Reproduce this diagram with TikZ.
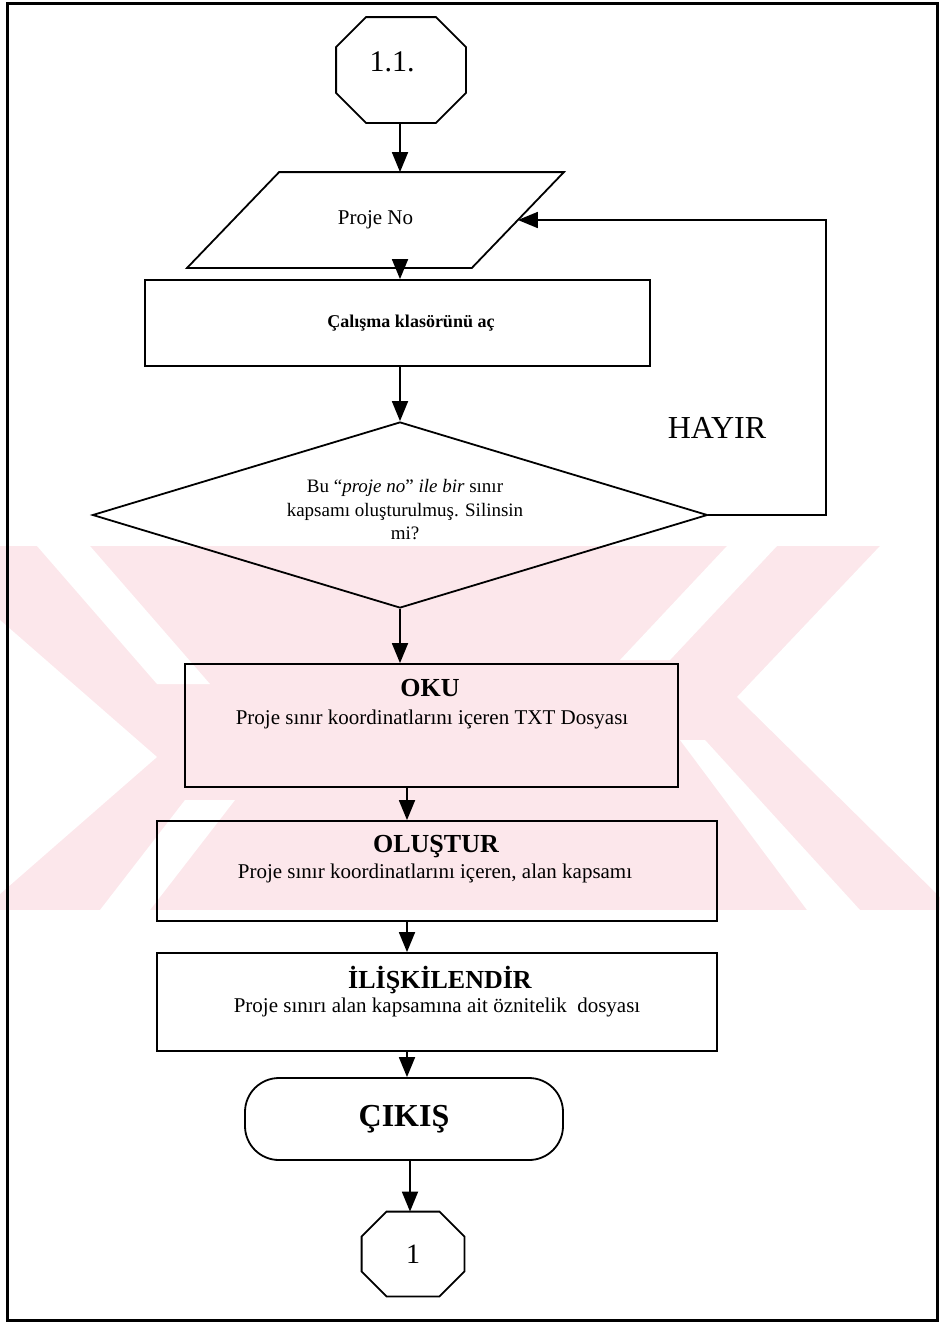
\documentclass[tikz,border=0pt]{standalone}
\usepackage{fontspec}
\setmainfont{Liberation Serif}
\usetikzlibrary{calc,shapes.geometric,arrows.meta}
\definecolor{wmpink}{RGB}{252,231,235}

\begin{document}
\begin{tikzpicture}[x=0.5pt,y=-0.5pt,line width=0.9pt,
    octa/.style={rectangle,inner sep=0pt},
    inbox/.style={rectangle,inner sep=0pt},
    procbox/.style={draw,rectangle,inner sep=0pt},
    askbox/.style={draw,diamond,aspect=3.3,inner sep=0pt},
    endbox/.style={draw,rectangle,rounded corners=17pt,inner sep=0pt},
    flowarrow/.style={-{Triangle[width=8pt,length=10pt]}},
    titleline/.style={inner sep=0pt,font=\fontsize{13}{15}\selectfont\bfseries},
    subline/.style={inner sep=0pt,font=\fontsize{10.5}{12}\selectfont}]
    \useasboundingbox (0,0) rectangle (942,1333);
    % watermark
    \fill[wmpink] (0,546) rectangle (940,910);
    \fill[white] (0,620) -- (157,757) -- (0,894) -- cycle;
    \fill[white] (880,546) -- (737,697) -- (940,897) -- (942,897) -- (942,546) -- cycle;
    \fill[white] (37,546) -- (90,546) -- (210,684) -- (157,684) -- cycle;
    \fill[white] (727,546) -- (777,546) -- (670,660) -- (620,660) -- cycle;
    \fill[white] (807,910) -- (860,910) -- (705,740) -- (680,740) -- cycle;
    \fill[white] (100,910) -- (150,910) -- (235,800) -- (185,800) -- cycle;
    % frame
    \draw[line width=1.5pt] (7,3) rectangle (937,1320);

    \node[octa,minimum width=64pt,minimum height=52pt] (start) at (401,70) {};
    \node[font=\fontsize{15}{17}\selectfont] (starttext) at (392,62) {1.1.};
    \node[inbox,minimum width=141.5pt,minimum height=47pt,font=\fontsize{10.5}{12}\selectfont] (projno) at (375.5,220) {Proje No};
    \node[procbox,minimum width=252.5pt,minimum height=43pt] (folder) at (397.5,323) {};
    \node[font=\fontsize{9}{11}\selectfont\bfseries] (foldertext) at (411,323) {Çalışma klasörünü aç};
    \node[askbox,minimum width=307.5pt,minimum height=93pt] (delete) at (400,515) {};
    \node[align=center,font=\fontsize{9.5}{11.75}\selectfont] (deletetext) at (405,510)
        {Bu “\textit{proje no}” \textit{ile bir} sınır\\ kapsamı oluşturulmuş. Silinsin\\ mi?};
    \node[font=\fontsize{16}{18}\selectfont] (no) at (717,428) {HAYIR};

    \node[procbox,minimum width=246.5pt,minimum height=61.5pt] (oku) at (431.5,725.5) {};
    \node[titleline] (okuhead) at (430,688) {OKU};
    \node[subline] (okusub) at (432,719) {Proje sınır koordinatlarını içeren TXT Dosyası};

    \node[procbox,minimum width=280pt,minimum height=50pt] (olus) at (437,871) {};
    \node[titleline] (olushead) at (436,847) {OLUŞTUR};
    \node[subline] (olussub) at (435,873) {Proje sınır koordinatlarını içeren, alan kapsamı};

    \node[procbox,minimum width=280pt,minimum height=49pt] (ilis) at (437,1002) {};
    \node[titleline] (ilishead) at (440,980) {İLİŞKİLENDİR};
    \node[subline] (ilissub) at (437,1007) {Proje sınırı alan kapsamına ait öznitelik\ \ dosyası};

    \node[endbox,minimum width=159pt,minimum height=41pt,font=\fontsize{16}{18}\selectfont\bfseries] (exit) at (404,1119) {ÇIKIŞ};
    \node[octa,minimum width=50.5pt,minimum height=41.5pt,font=\fontsize{14}{16}\selectfont] (stop) at (413,1254) {1};

    % octagon outlines
    \foreach \n/\c in {start/15pt,stop/12.5pt}
        \draw ($(\n.north west)+(\c,0pt)$) -- ($(\n.north east)+(-\c,0pt)$) -- ($(\n.north east)+(0pt,-\c)$)
            -- ($(\n.south east)+(0pt,\c)$) -- ($(\n.south east)+(-\c,0pt)$) -- ($(\n.south west)+(\c,0pt)$)
            -- ($(\n.south west)+(0pt,\c)$) -- ($(\n.north west)+(0pt,-\c)$) -- cycle;
    % parallelogram outline
    \draw ($(projno.north west)+(23pt,0pt)$) -- ($(projno.north east)+(23pt,0pt)$)
        -- ($(projno.south east)+(-23pt,0pt)$) -- ($(projno.south west)+(-23pt,0pt)$) -- cycle;

    \coordinate (upper) at (400,0);
    \coordinate (lower) at (407,0);
    \coordinate (bottom) at (410,0);
    \coordinate (back) at (826,0);
    \draw[flowarrow] (start.south -| upper) -- (projno.north -| upper);
    \draw[flowarrow] (projno.south -| upper) -- (folder.north -| upper);
    \draw[flowarrow] (folder.south -| upper) -- (delete.north -| upper);
    \draw[flowarrow] (delete.south -| upper) -- (oku.north -| upper);
    \draw[flowarrow] (oku.south -| lower) -- (olus.north -| lower);
    \draw[flowarrow] (olus.south -| lower) -- (ilis.north -| lower);
    \draw[flowarrow] (ilis.south -| lower) -- (exit.north -| lower);
    \draw[flowarrow] (exit.south -| bottom) -- (stop.north -| bottom);
    \draw[flowarrow] (delete.east) -- (delete.east -| back) -- (back |- projno.east) -- (projno.east);
\end{tikzpicture}
\end{document}
